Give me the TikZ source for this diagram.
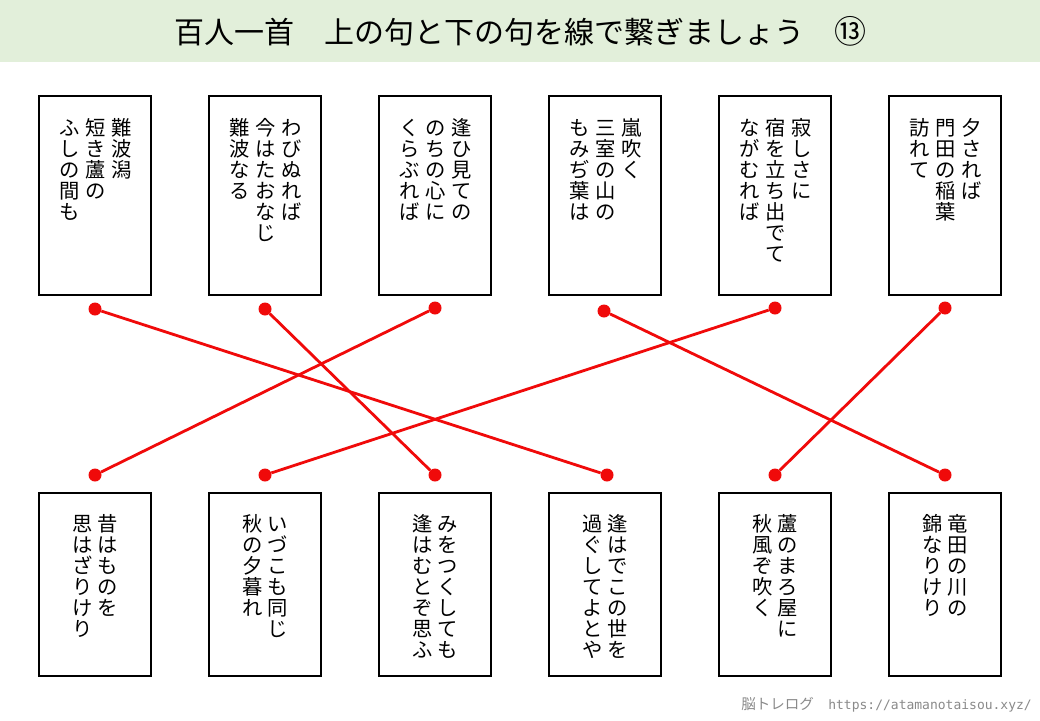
\documentclass[tikz,border=0pt]{standalone}
\usepackage{fontspec}
\newfontfamily\jp{Noto Sans CJK JP}
\newfontfamily\monofnt{DejaVu Sans Mono}
\definecolor{bandgreen}{HTML}{E2EFDA}
\definecolor{linkred}{HTML}{F00A0A}
\definecolor{footgray}{HTML}{8A8A8A}
\makeatletter
\newcommand\vtxt[1]{\vtop{\baselineskip=21pt\lineskiplimit=-100pt\lineskip=0pt\@tfor\vch:=#1\do{\hbox to 20pt{\hss\vch\hss}}}}
\makeatother
\tikzset{
  card/.style={draw=black, line width=2.3pt, fill=white, minimum width=112pt, inner sep=0pt},
  topcard/.style={card, minimum height=198.5pt},
  botcard/.style={card, minimum height=182.5pt},
  colt/.style={anchor=base, inner sep=0pt, font=\jp\fontsize{20.3pt}{21pt}\selectfont},
  dot/.style={circle, fill=linkred, minimum size=13pt, inner sep=0pt},
  link/.style={draw=linkred, line width=2.8pt},
}
\begin{document}
\begin{tikzpicture}[x=1pt,y=-1pt]
\useasboundingbox (0,0) rectangle (1040,720);
\fill[white] (0,0) rectangle (1040,720);
\fill[bandgreen] (0,0) rectangle (1040,62);
\node[font=\jp\fontsize{30pt}{33pt}\selectfont, inner sep=0pt] (title) at (520,31) {百人一首　上の句と下の句を線で繋ぎましょう　{\fontsize{32pt}{33pt}\selectfont ⑬}};

% top cards
\node[topcard] (c1) at (95,195.5) {};
\node[topcard] (c2) at (265,195.5) {};
\node[topcard] (c3) at (435,195.5) {};
\node[topcard] (c4) at (605,195.5) {};
\node[topcard] (c5) at (775,195.5) {};
\node[topcard] (c6) at (945,195.5) {};
% bottom cards
\node[botcard] (d1) at (95,584.5) {};
\node[botcard] (d2) at (265,584.5) {};
\node[botcard] (d3) at (435,584.5) {};
\node[botcard] (d4) at (605,584.5) {};
\node[botcard] (d5) at (775,584.5) {};
\node[botcard] (d6) at (945,584.5) {};

% top texts
\node[colt] (c1a) at (122,135) {\vtxt{難波潟}};
\node[colt] (c1b) at (96,135) {\vtxt{短き蘆の}};
\node[colt] (c1c) at (70,135) {\vtxt{ふしの間も}};
\node[colt] (c2a) at (292,135) {\vtxt{わびぬれば}};
\node[colt] (c2b) at (266,135) {\vtxt{今はたおなじ}};
\node[colt] (c2c) at (240,135) {\vtxt{難波なる}};
\node[colt] (c3a) at (462,135) {\vtxt{逢ひ見ての}};
\node[colt] (c3b) at (436,135) {\vtxt{のちの心に}};
\node[colt] (c3c) at (410,135) {\vtxt{くらぶれば}};
\node[colt] (c4a) at (632,135) {\vtxt{嵐吹く}};
\node[colt] (c4b) at (606,135) {\vtxt{三室の山の}};
\node[colt] (c4c) at (580,135) {\vtxt{もみぢ葉は}};
\node[colt] (c5a) at (802,135) {\vtxt{寂しさに}};
\node[colt] (c5b) at (776,135) {\vtxt{宿を立ち出でて}};
\node[colt] (c5c) at (750,135) {\vtxt{ながむれば}};
\node[colt] (c6a) at (972,135) {\vtxt{夕されば}};
\node[colt] (c6b) at (946,135) {\vtxt{門田の稲葉}};
\node[colt] (c6c) at (920,135) {\vtxt{訪れて}};

% bottom texts
\node[colt] (d1a) at (108,531) {\vtxt{昔はものを}};
\node[colt] (d1b) at (83,531) {\vtxt{思はざりけり}};
\node[colt] (d2a) at (278,531) {\vtxt{いづこも同じ}};
\node[colt] (d2b) at (253,531) {\vtxt{秋の夕暮れ}};
\node[colt] (d3a) at (448,531) {\vtxt{みをつくしても}};
\node[colt] (d3b) at (423,531) {\vtxt{逢はむとぞ思ふ}};
\node[colt] (d4a) at (618,531) {\vtxt{逢はでこの世を}};
\node[colt] (d4b) at (593,531) {\vtxt{過ぐしてよとや}};
\node[colt] (d5a) at (788,531) {\vtxt{蘆のまろ屋に}};
\node[colt] (d5b) at (763,531) {\vtxt{秋風ぞ吹く}};
\node[colt] (d6a) at (958,531) {\vtxt{竜田の川の}};
\node[colt] (d6b) at (933,531) {\vtxt{錦なりけり}};

% dots
\node[dot] (t1) at (95,309) {};
\node[dot] (t2) at (265,309) {};
\node[dot] (t3) at (435,308) {};
\node[dot] (t4) at (604,311) {};
\node[dot] (t5) at (775,308) {};
\node[dot] (t6) at (945,308) {};
\node[dot] (b1) at (95,475) {};
\node[dot] (b2) at (265,475) {};
\node[dot] (b3) at (435,475) {};
\node[dot] (b4) at (607,475) {};
\node[dot] (b5) at (775,475) {};
\node[dot] (b6) at (945,475) {};

% links
\draw[link] (t1) -- (b4);
\draw[link] (t2) -- (b3);
\draw[link] (t3) -- (b1);
\draw[link] (t4) -- (b6);
\draw[link] (t5) -- (b2);
\draw[link] (t6) -- (b5);

% footer
\node[anchor=east, inner sep=0pt, text=footgray] (foot) at (1032,705) {{\jp\fontsize{14.5pt}{16pt}\selectfont 脳トレログ　}{\monofnt\fontsize{13pt}{16pt}\selectfont https://atamanotaisou.xyz/}};
\end{tikzpicture}
\end{document}
